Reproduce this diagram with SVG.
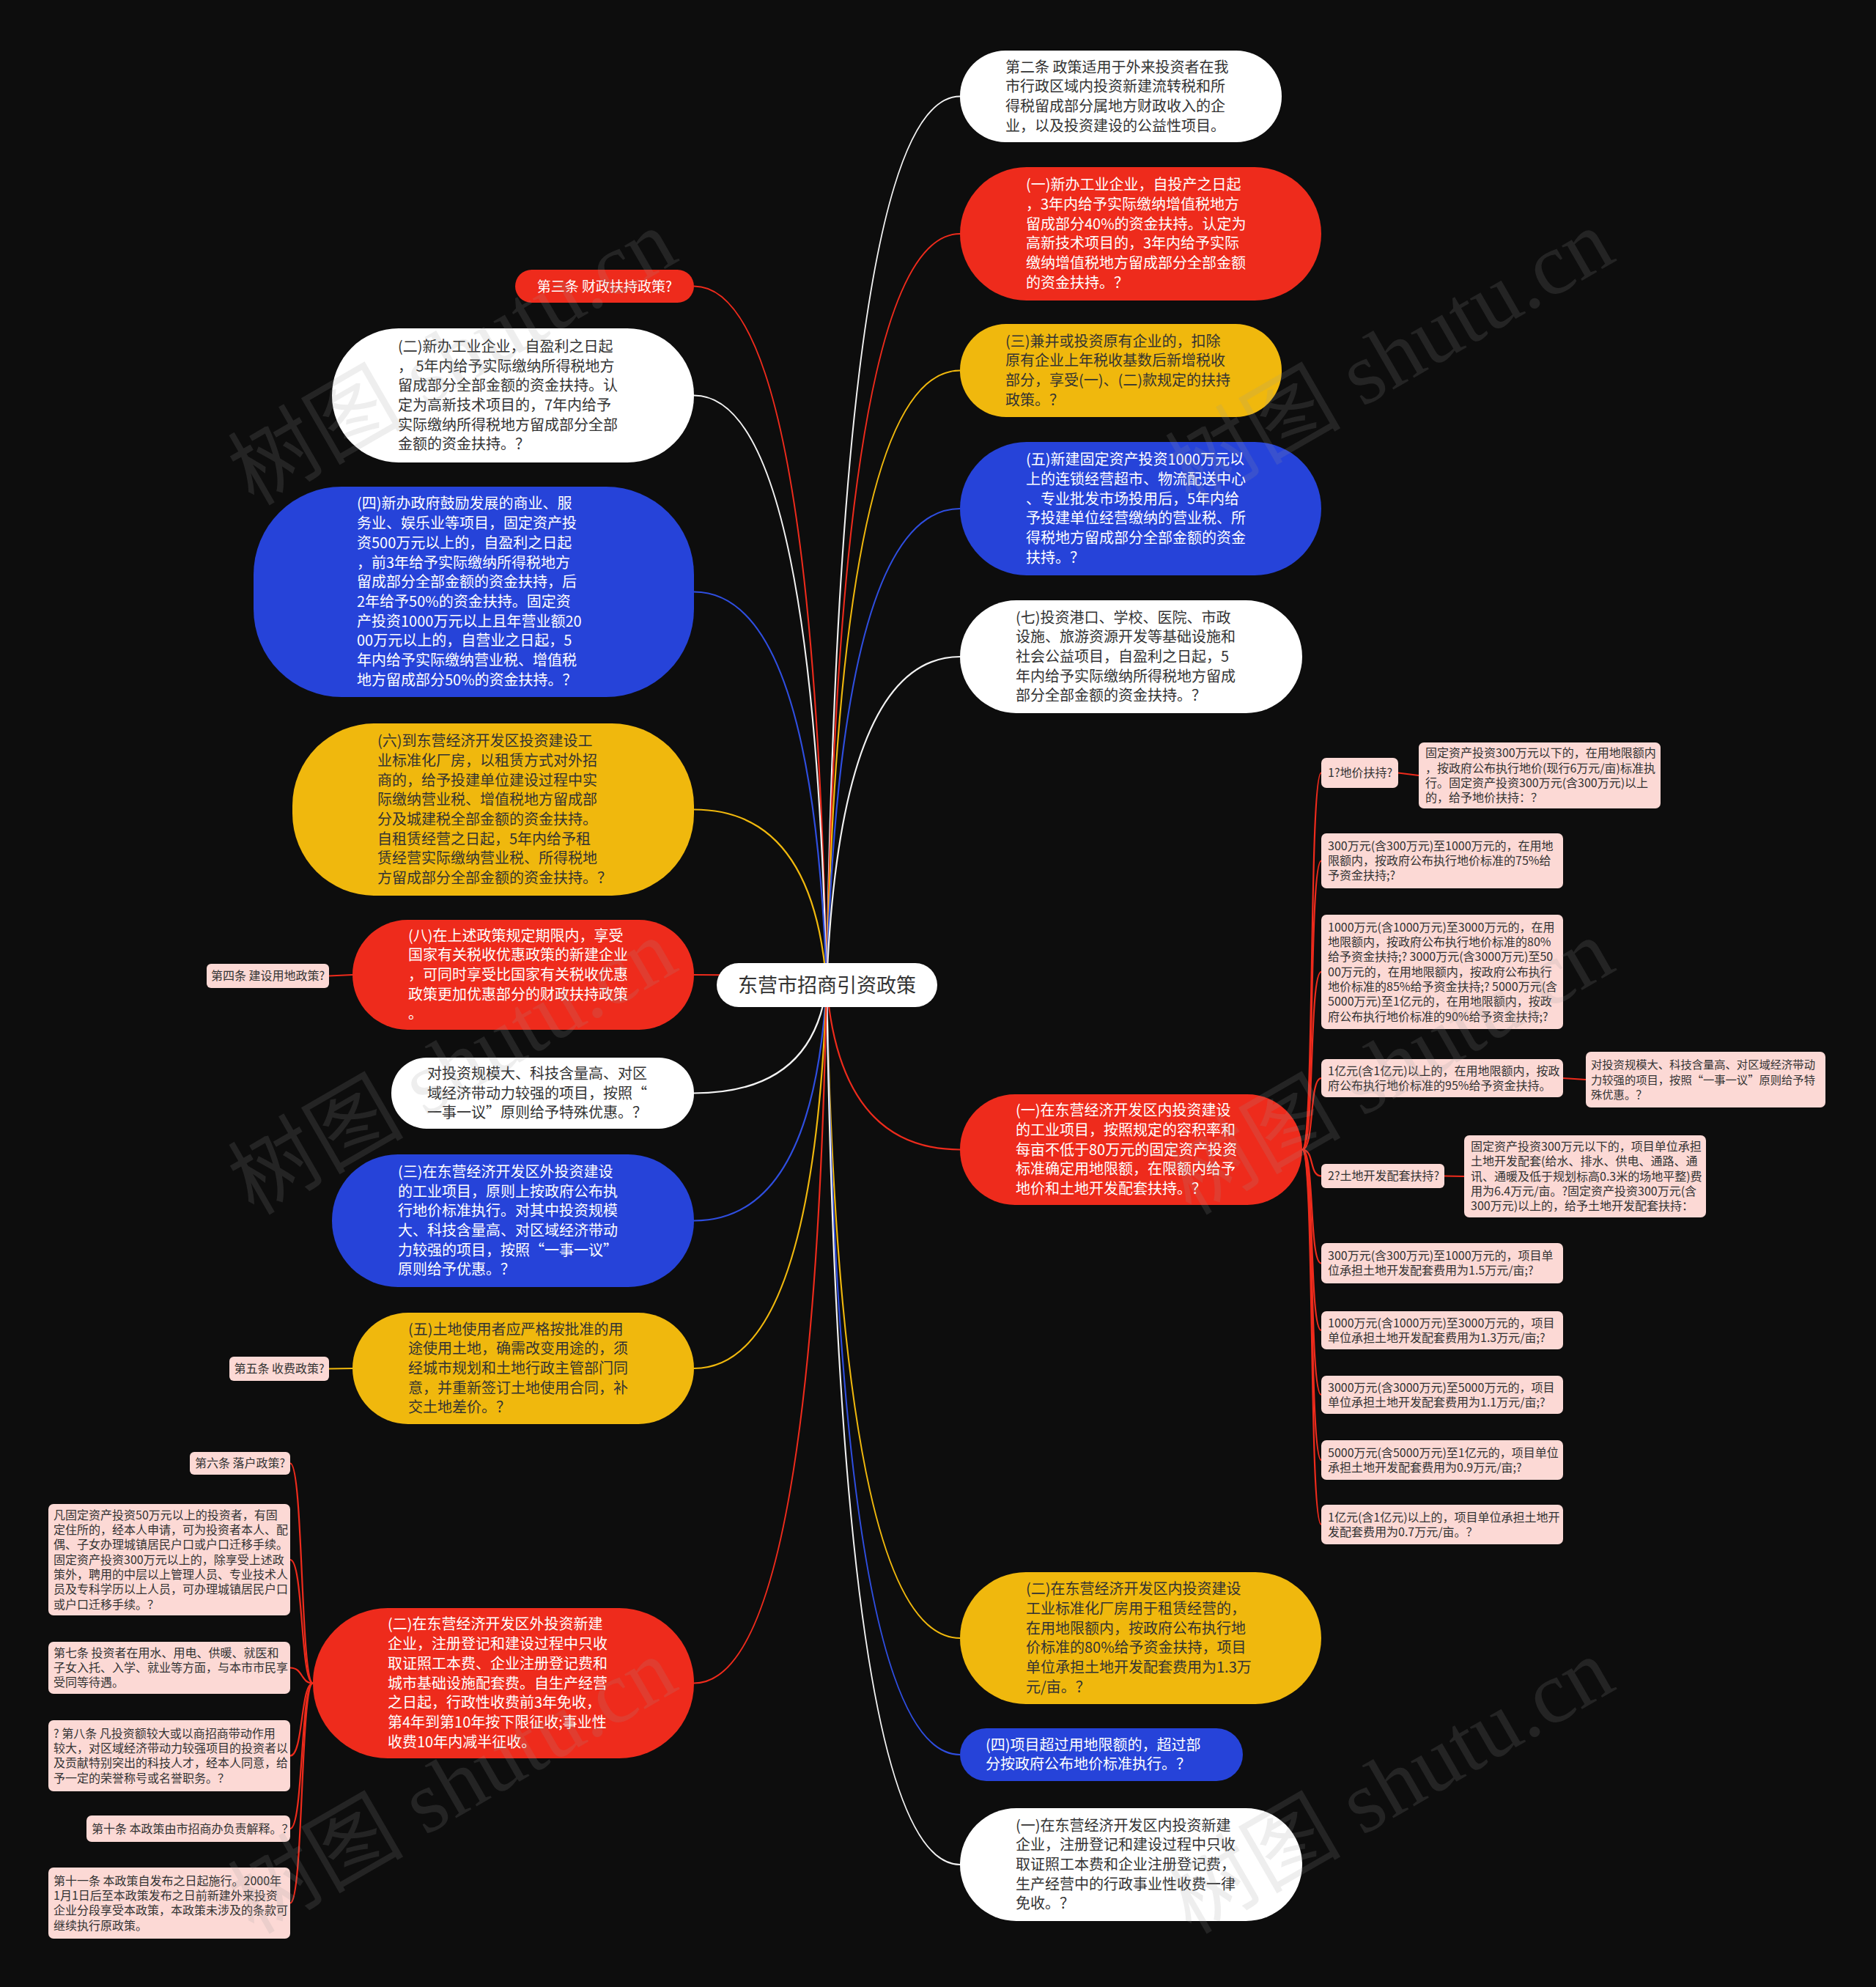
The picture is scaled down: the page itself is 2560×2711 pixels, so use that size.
<svg xmlns="http://www.w3.org/2000/svg" width="2560" height="2711" viewBox="0 0 2560 2711">
<style>
.t{font-family:"Noto Sans CJK SC","Noto Sans",sans-serif;font-size:20px}
.s{font-family:"Noto Sans CJK SC","Noto Sans",sans-serif;font-size:16px;fill:#333}
.dk{fill:#333}
.wt{fill:#fff}
.red{fill:#EE2B1C}
.blue{fill:#2643D9}
.yel{fill:#F0B80D}
.wh{fill:#fff}
.pk{fill:#FCD9D5}
.c{fill:none;stroke-width:2.2}
.cr{stroke:#EE2B1C}
.cb{stroke:#2F4EE0}
.cy{stroke:#F0B80D}
.cw{stroke:#f2f2f2}
.wm{font-family:"Liberation Serif","Noto Sans CJK SC",serif;font-size:120px;fill:#9a9a9a;opacity:0.16}
</style>
<rect x="0" y="0" width="2560" height="2711" fill="#0d0d0d"/>
<g id="connectors">
<path class="c cw" d="M1128,1344 Q1146,131.5 1310,131.5"/>
<path class="c cr" d="M1128,1344 Q1146,319 1310,319"/>
<path class="c cy" d="M1128,1344 Q1146,505.5 1310,505.5"/>
<path class="c cb" d="M1128,1344 Q1146,694 1310,694"/>
<path class="c cw" d="M1128,1344 Q1146,896 1310,896"/>
<path class="c cr" d="M1128,1344 Q1146,1568.5 1310,1568.5"/>
<path class="c cy" d="M1128,1344 Q1146,2235 1310,2235"/>
<path class="c cb" d="M1128,1344 Q1146,2394 1310,2394"/>
<path class="c cw" d="M1128,1344 Q1146,2544 1310,2544"/>
<path class="c cr" d="M1128,1344 Q1110,390.5 947,390.5"/>
<path class="c cw" d="M1128,1344 Q1110,539.5 947,539.5"/>
<path class="c cb" d="M1128,1344 Q1110,807.5 947,807.5"/>
<path class="c cy" d="M1128,1344 Q1110,1104.5 947,1104.5"/>
<path class="c cr" d="M1128,1344 Q1110,1330 947,1330"/>
<path class="c cw" d="M1128,1344 Q1110,1491.5 947,1491.5"/>
<path class="c cb" d="M1128,1344 Q1110,1665.5 947,1665.5"/>
<path class="c cy" d="M1128,1344 Q1110,1867 947,1867"/>
<path class="c cr" d="M1128,1344 Q1110,2296.5 947,2296.5"/>
<path class="c cr" d="M481,1330 L449,1331.5"/>
<path class="c cy" d="M481,1867 L449,1867.5"/>
<path class="c cr" d="M427,2296.5 C410,2296.5 414,1996.5 396,1996.5"/>
<path class="c cr" d="M427,2296.5 C410,2296.5 414,2128 396,2128"/>
<path class="c cr" d="M427,2296.5 C410,2296.5 414,2275.5 396,2275.5"/>
<path class="c cr" d="M427,2296.5 C410,2296.5 414,2395.5 396,2395.5"/>
<path class="c cr" d="M427,2296.5 C410,2296.5 414,2495 396,2495"/>
<path class="c cr" d="M427,2296.5 C410,2296.5 414,2596.5 396,2596.5"/>
<path class="c cr" d="M1777,1568.5 C1794,1568.5 1786,1054.5 1803,1054.5"/>
<path class="c cr" d="M1777,1568.5 C1794,1568.5 1786,1174.5 1803,1174.5"/>
<path class="c cr" d="M1777,1568.5 C1794,1568.5 1786,1326 1803,1326"/>
<path class="c cr" d="M1777,1568.5 C1794,1568.5 1786,1471 1803,1471"/>
<path class="c cr" d="M1777,1568.5 C1794,1568.5 1786,1604.5 1803,1604.5"/>
<path class="c cr" d="M1777,1568.5 C1794,1568.5 1786,1723.5 1803,1723.5"/>
<path class="c cr" d="M1777,1568.5 C1794,1568.5 1786,1815 1803,1815"/>
<path class="c cr" d="M1777,1568.5 C1794,1568.5 1786,1903 1803,1903"/>
<path class="c cr" d="M1777,1568.5 C1794,1568.5 1786,1992 1803,1992"/>
<path class="c cr" d="M1777,1568.5 C1794,1568.5 1786,2080 1803,2080"/>
<path class="c cr" d="M1908,1054.5 L1936,1058"/>
<path class="c cr" d="M2133,1471 L2164,1473"/>
<path class="c cr" d="M1971,1604.5 L1998,1605"/>
</g>
<g id="center">
<rect x="978" y="1314" width="301" height="60" rx="30" fill="#fff"/>
<text x="1128.5" y="1353.5" text-anchor="middle" style="font-family:'Noto Sans CJK SC',sans-serif;font-size:27px;fill:#333">东营市招商引资政策</text>
</g>
<g id="r1">
<rect class="wh" x="1310" y="69" width="439" height="125" rx="62"/>
<text class="t dk" x="1372" y="98.5"><tspan x="1372">第二条 政策适用于外来投资者在我</tspan><tspan x="1372" dy="26.7">市行政区域内投资新建流转税和所</tspan><tspan x="1372" dy="26.7">得税留成部分属地方财政收入的企</tspan><tspan x="1372" dy="26.7">业，以及投资建设的公益性项目。</tspan></text>
</g>
<g id="r2">
<rect class="red" x="1310" y="228" width="493" height="182" rx="91"/>
<text class="t wt" x="1400" y="259.3"><tspan x="1400">(一)新办工业企业，自投产之日起</tspan><tspan x="1400" dy="26.7">，3年内给予实际缴纳增值税地方</tspan><tspan x="1400" dy="26.7">留成部分40%的资金扶持。认定为</tspan><tspan x="1400" dy="26.7">高新技术项目的，3年内给予实际</tspan><tspan x="1400" dy="26.7">缴纳增值税地方留成部分全部金额</tspan><tspan x="1400" dy="26.7">的资金扶持。？</tspan></text>
</g>
<g id="r3">
<rect class="yel" x="1310" y="442" width="439" height="127" rx="63"/>
<text class="t dk" x="1372" y="472.5"><tspan x="1372">(三)兼并或投资原有企业的，扣除</tspan><tspan x="1372" dy="26.7">原有企业上年税收基数后新增税收</tspan><tspan x="1372" dy="26.7">部分，享受(一)、(二)款规定的扶持</tspan><tspan x="1372" dy="26.7">政策。？</tspan></text>
</g>
<g id="r4">
<rect class="blue" x="1310" y="603" width="493" height="182" rx="91"/>
<text class="t wt" x="1400" y="634.3"><tspan x="1400">(五)新建固定资产投资1000万元以</tspan><tspan x="1400" dy="26.7">上的连锁经营超市、物流配送中心</tspan><tspan x="1400" dy="26.7">、专业批发市场投用后，5年内给</tspan><tspan x="1400" dy="26.7">予投建单位经营缴纳的营业税、所</tspan><tspan x="1400" dy="26.7">得税地方留成部分全部金额的资金</tspan><tspan x="1400" dy="26.7">扶持。？</tspan></text>
</g>
<g id="r5">
<rect class="wh" x="1310" y="819" width="467" height="154" rx="77"/>
<text class="t dk" x="1386" y="849.6"><tspan x="1386">(七)投资港口、学校、医院、市政</tspan><tspan x="1386" dy="26.7">设施、旅游资源开发等基础设施和</tspan><tspan x="1386" dy="26.7">社会公益项目，自盈利之日起，5</tspan><tspan x="1386" dy="26.7">年内给予实际缴纳所得税地方留成</tspan><tspan x="1386" dy="26.7">部分全部金额的资金扶持。？</tspan></text>
</g>
<g id="r6">
<rect class="red" x="1310" y="1493" width="467" height="151" rx="75"/>
<text class="t wt" x="1386" y="1522.1"><tspan x="1386">(一)在东营经济开发区内投资建设</tspan><tspan x="1386" dy="26.7">的工业项目，按照规定的容积率和</tspan><tspan x="1386" dy="26.7">每亩不低于80万元的固定资产投资</tspan><tspan x="1386" dy="26.7">标准确定用地限额，在限额内给予</tspan><tspan x="1386" dy="26.7">地价和土地开发配套扶持。？</tspan></text>
</g>
<g id="r7">
<rect class="yel" x="1310" y="2145" width="493" height="180" rx="90"/>
<text class="t dk" x="1400" y="2175.3"><tspan x="1400">(二)在东营经济开发区内投资建设</tspan><tspan x="1400" dy="26.7">工业标准化厂房用于租赁经营的，</tspan><tspan x="1400" dy="26.7">在用地限额内，按政府公布执行地</tspan><tspan x="1400" dy="26.7">价标准的80%给予资金扶持，项目</tspan><tspan x="1400" dy="26.7">单位承担土地开发配套费用为1.3万</tspan><tspan x="1400" dy="26.7">元/亩。？</tspan></text>
</g>
<g id="r8">
<rect class="blue" x="1310" y="2358" width="386" height="72" rx="36"/>
<text class="t wt" x="1345" y="2387.7"><tspan x="1345">(四)项目超过用地限额的，超过部</tspan><tspan x="1345" dy="26.7">分按政府公布地价标准执行。？</tspan></text>
</g>
<g id="r9">
<rect class="wh" x="1310" y="2467" width="467" height="154" rx="77"/>
<text class="t dk" x="1386" y="2497.6"><tspan x="1386">(一)在东营经济开发区内投资新建</tspan><tspan x="1386" dy="26.7">企业，注册登记和建设过程中只收</tspan><tspan x="1386" dy="26.7">取证照工本费和企业注册登记费，</tspan><tspan x="1386" dy="26.7">生产经营中的行政事业性收费一律</tspan><tspan x="1386" dy="26.7">免收。？</tspan></text>
</g>
<g id="l1">
<rect class="red" x="703" y="368" width="244" height="45" rx="22.5"/>
<text class="t wt" x="825" y="397.5" text-anchor="middle" style="font-size:19px">第三条 财政扶持政策?</text>
</g>
<g id="l2">
<rect class="wh" x="453" y="448" width="494" height="183" rx="91"/>
<text class="t dk" x="543" y="479.8"><tspan x="543">(二)新办工业企业，自盈利之日起</tspan><tspan x="543" dy="26.7">， 5年内给予实际缴纳所得税地方</tspan><tspan x="543" dy="26.7">留成部分全部金额的资金扶持。认</tspan><tspan x="543" dy="26.7">定为高新技术项目的，7年内给予</tspan><tspan x="543" dy="26.7">实际缴纳所得税地方留成部分全部</tspan><tspan x="543" dy="26.7">金额的资金扶持。？</tspan></text>
</g>
<g id="l3">
<rect class="blue" x="346" y="664" width="601" height="287" rx="120"/>
<text class="t wt" x="487" y="694.4"><tspan x="487">(四)新办政府鼓励发展的商业、服</tspan><tspan x="487" dy="26.7">务业、娱乐业等项目，固定资产投</tspan><tspan x="487" dy="26.7">资500万元以上的，自盈利之日起</tspan><tspan x="487" dy="26.7">，前3年给予实际缴纳所得税地方</tspan><tspan x="487" dy="26.7">留成部分全部金额的资金扶持，后</tspan><tspan x="487" dy="26.7">2年给予50%的资金扶持。固定资</tspan><tspan x="487" dy="26.7">产投资1000万元以上且年营业额20</tspan><tspan x="487" dy="26.7">00万元以上的，自营业之日起，5</tspan><tspan x="487" dy="26.7">年内给予实际缴纳营业税、增值税</tspan><tspan x="487" dy="26.7">地方留成部分50%的资金扶持。？</tspan></text>
</g>
<g id="l4">
<rect class="yel" x="399" y="987" width="548" height="235" rx="112"/>
<text class="t dk" x="515" y="1018.1"><tspan x="515">(六)到东营经济开发区投资建设工</tspan><tspan x="515" dy="26.7">业标准化厂房，以租赁方式对外招</tspan><tspan x="515" dy="26.7">商的，给予投建单位建设过程中实</tspan><tspan x="515" dy="26.7">际缴纳营业税、增值税地方留成部</tspan><tspan x="515" dy="26.7">分及城建税全部金额的资金扶持。</tspan><tspan x="515" dy="26.7">自租赁经营之日起，5年内给予租</tspan><tspan x="515" dy="26.7">赁经营实际缴纳营业税、所得税地</tspan><tspan x="515" dy="26.7">方留成部分全部金额的资金扶持。？</tspan></text>
</g>
<g id="l5">
<rect class="red" x="481" y="1255" width="466" height="150" rx="75"/>
<text class="t wt" x="557" y="1283.6"><tspan x="557">(八)在上述政策规定期限内，享受</tspan><tspan x="557" dy="26.7">国家有关税收优惠政策的新建企业</tspan><tspan x="557" dy="26.7">，可同时享受比国家有关税收优惠</tspan><tspan x="557" dy="26.7">政策更加优惠部分的财政扶持政策</tspan><tspan x="557" dy="26.7">。</tspan></text>
</g>
<g id="l5a">
<rect class="pk" x="282" y="1315" width="167" height="33" rx="6"/>
<text class="s" x="365.5" y="1337.1" text-anchor="middle">第四条 建设用地政策?</text>
</g>
<g id="l6">
<rect class="wh" x="534" y="1443" width="413" height="97" rx="48"/>
<text class="t dk" x="583" y="1471.8"><tspan x="583">对投资规模大、科技含量高、对区</tspan><tspan x="583" dy="26.7">域经济带动力较强的项目，按照“</tspan><tspan x="583" dy="26.7">一事一议”原则给予特殊优惠。？</tspan></text>
</g>
<g id="l7">
<rect class="blue" x="453" y="1575" width="494" height="181" rx="90"/>
<text class="t wt" x="543" y="1605.8"><tspan x="543">(三)在东营经济开发区外投资建设</tspan><tspan x="543" dy="26.7">的工业项目，原则上按政府公布执</tspan><tspan x="543" dy="26.7">行地价标准执行。对其中投资规模</tspan><tspan x="543" dy="26.7">大、科技含量高、对区域经济带动</tspan><tspan x="543" dy="26.7">力较强的项目，按照“一事一议”</tspan><tspan x="543" dy="26.7">原则给予优惠。？</tspan></text>
</g>
<g id="l8">
<rect class="yel" x="481" y="1791" width="466" height="152" rx="76"/>
<text class="t dk" x="557" y="1820.6"><tspan x="557">(五)土地使用者应严格按批准的用</tspan><tspan x="557" dy="26.7">途使用土地，确需改变用途的，须</tspan><tspan x="557" dy="26.7">经城市规划和土地行政主管部门同</tspan><tspan x="557" dy="26.7">意，并重新签订土地使用合同，补</tspan><tspan x="557" dy="26.7">交土地差价。？</tspan></text>
</g>
<g id="l8a">
<rect class="pk" x="313" y="1851" width="136" height="33" rx="6"/>
<text class="s" x="381" y="1873.1" text-anchor="middle">第五条 收费政策?</text>
</g>
<g id="l9">
<rect class="red" x="427" y="2194" width="520" height="205" rx="102"/>
<text class="t wt" x="529" y="2223.4"><tspan x="529">(二)在东营经济开发区外投资新建</tspan><tspan x="529" dy="26.7">企业，注册登记和建设过程中只收</tspan><tspan x="529" dy="26.7">取证照工本费、企业注册登记费和</tspan><tspan x="529" dy="26.7">城市基础设施配套费。自生产经营</tspan><tspan x="529" dy="26.7">之日起，行政性收费前3年免收，</tspan><tspan x="529" dy="26.7">第4年到第10年按下限征收;事业性</tspan><tspan x="529" dy="26.7">收费10年内减半征收。</tspan></text>
</g>
<g id="p1">
<rect class="pk" x="259" y="1981" width="137" height="31" rx="6"/>
<text class="s" x="327.5" y="2002.1" text-anchor="middle">第六条 落户政策?</text>
</g>
<g id="p2">
<rect class="pk" x="66" y="2052" width="330" height="152" rx="7"/>
<text class="s" x="73" y="2072.7"><tspan x="73">凡固定资产投资50万元以上的投资者，有固</tspan><tspan x="73" dy="20.3">定住所的，经本人申请，可为投资者本人、配</tspan><tspan x="73" dy="20.3">偶、子女办理城镇居民户口或户口迁移手续。</tspan><tspan x="73" dy="20.3">固定资产投资300万元以上的，除享受上述政</tspan><tspan x="73" dy="20.3">策外，聘用的中层以上管理人员、专业技术人</tspan><tspan x="73" dy="20.3">员及专科学历以上人员，可办理城镇居民户口</tspan><tspan x="73" dy="20.3">或户口迁移手续。？</tspan></text>
</g>
<g id="p3">
<rect class="pk" x="66" y="2240" width="330" height="71" rx="7"/>
<text class="s" x="73" y="2260.8"><tspan x="73">第七条 投资者在用水、用电、供暖、就医和</tspan><tspan x="73" dy="20.3">子女入托、入学、就业等方面，与本市市民享</tspan><tspan x="73" dy="20.3">受同等待遇。</tspan></text>
</g>
<g id="p4">
<rect class="pk" x="66" y="2347" width="330" height="97" rx="7"/>
<text class="s" x="73" y="2370.7"><tspan x="73">? 第八条 凡投资额较大或以商招商带动作用</tspan><tspan x="73" dy="20.3">较大，对区域经济带动力较强项目的投资者以</tspan><tspan x="73" dy="20.3">及贡献特别突出的科技人才，经本人同意，给</tspan><tspan x="73" dy="20.3">予一定的荣誉称号或名誉职务。？</tspan></text>
</g>
<g id="p5">
<rect class="pk" x="118" y="2477" width="278" height="36" rx="7"/>
<text class="s" x="125" y="2500.6">第十条 本政策由市招商办负责解释。？</text>
</g>
<g id="p6">
<rect class="pk" x="66" y="2548" width="330" height="97" rx="7"/>
<text class="s" x="73" y="2571.7"><tspan x="73">第十一条 本政策自发布之日起施行。2000年</tspan><tspan x="73" dy="20.3">1月1日后至本政策发布之日前新建外来投资</tspan><tspan x="73" dy="20.3">企业分段享受本政策，本政策未涉及的条款可</tspan><tspan x="73" dy="20.3">继续执行原政策。</tspan></text>
</g>
<g id="q1">
<rect class="pk" x="1803" y="1034" width="105" height="41" rx="7"/>
<text class="s" x="1812" y="1060.1">1?地价扶持?</text>
</g>
<g id="q1c">
<rect class="pk" x="1936" y="1013" width="330" height="90" rx="7"/>
<text class="s" x="1945" y="1033.2"><tspan x="1945">固定资产投资300万元以下的，在用地限额内</tspan><tspan x="1945" dy="20.3">，按政府公布执行地价(现行6万元/亩)标准执</tspan><tspan x="1945" dy="20.3">行。固定资产投资300万元(含300万元)以上</tspan><tspan x="1945" dy="20.3">的，给予地价扶持：？</tspan></text>
</g>
<g id="q2">
<rect class="pk" x="1803" y="1137" width="330" height="75" rx="7"/>
<text class="s" x="1812" y="1159.8"><tspan x="1812">300万元(含300万元)至1000万元的，在用地</tspan><tspan x="1812" dy="20.3">限额内，按政府公布执行地价标准的75%给</tspan><tspan x="1812" dy="20.3">予资金扶持;?</tspan></text>
</g>
<g id="q3">
<rect class="pk" x="1803" y="1248" width="330" height="156" rx="7"/>
<text class="s" x="1812" y="1270.7"><tspan x="1812">1000万元(含1000万元)至3000万元的，在用</tspan><tspan x="1812" dy="20.3">地限额内，按政府公布执行地价标准的80%</tspan><tspan x="1812" dy="20.3">给予资金扶持;? 3000万元(含3000万元)至50</tspan><tspan x="1812" dy="20.3">00万元的，在用地限额内，按政府公布执行</tspan><tspan x="1812" dy="20.3">地价标准的85%给予资金扶持;? 5000万元(含</tspan><tspan x="1812" dy="20.3">5000万元)至1亿元的，在用地限额内，按政</tspan><tspan x="1812" dy="20.3">府公布执行地价标准的90%给予资金扶持;?</tspan></text>
</g>
<g id="q4">
<rect class="pk" x="1803" y="1445" width="330" height="52" rx="7"/>
<text class="s" x="1812" y="1466.5"><tspan x="1812">1亿元(含1亿元)以上的，在用地限额内，按政</tspan><tspan x="1812" dy="20.3">府公布执行地价标准的95%给予资金扶持。</tspan></text>
</g>
<g id="q4c">
<rect class="pk" x="2164" y="1435" width="327" height="76" rx="7"/>
<text class="s" x="2171" y="1458.3" style="font-size:15.3px"><tspan x="2171">对投资规模大、科技含量高、对区域经济带动</tspan><tspan x="2171" dy="20.3">力较强的项目，按照“一事一议”原则给予特</tspan><tspan x="2171" dy="20.3">殊优惠。？</tspan></text>
</g>
<g id="q5">
<rect class="pk" x="1803" y="1588" width="168" height="33" rx="6"/>
<text class="s" x="1812" y="1610.1">2?土地开发配套扶持?</text>
</g>
<g id="q5c">
<rect class="pk" x="1998" y="1549" width="330" height="112" rx="7"/>
<text class="s" x="2007" y="1570"><tspan x="2007">固定资产投资300万元以下的，项目单位承担</tspan><tspan x="2007" dy="20.3">土地开发配套(给水、排水、供电、通路、通</tspan><tspan x="2007" dy="20.3">讯、通暖及低于规划标高0.3米的场地平整)费</tspan><tspan x="2007" dy="20.3">用为6.4万元/亩。?固定资产投资300万元(含</tspan><tspan x="2007" dy="20.3">300万元)以上的，给予土地开发配套扶持：</tspan></text>
</g>
<g id="q6">
<rect class="pk" x="1803" y="1696" width="330" height="55" rx="7"/>
<text class="s" x="1812" y="1719"><tspan x="1812">300万元(含300万元)至1000万元的，项目单</tspan><tspan x="1812" dy="20.3">位承担土地开发配套费用为1.5万元/亩;?</tspan></text>
</g>
<g id="q7">
<rect class="pk" x="1803" y="1789" width="330" height="52" rx="7"/>
<text class="s" x="1812" y="1810.5"><tspan x="1812">1000万元(含1000万元)至3000万元的，项目</tspan><tspan x="1812" dy="20.3">单位承担土地开发配套费用为1.3万元/亩;?</tspan></text>
</g>
<g id="q8">
<rect class="pk" x="1803" y="1877" width="330" height="52" rx="7"/>
<text class="s" x="1812" y="1898.5"><tspan x="1812">3000万元(含3000万元)至5000万元的，项目</tspan><tspan x="1812" dy="20.3">单位承担土地开发配套费用为1.1万元/亩;?</tspan></text>
</g>
<g id="q9">
<rect class="pk" x="1803" y="1965" width="330" height="54" rx="7"/>
<text class="s" x="1812" y="1987.5"><tspan x="1812">5000万元(含5000万元)至1亿元的，项目单位</tspan><tspan x="1812" dy="20.3">承担土地开发配套费用为0.9万元/亩;?</tspan></text>
</g>
<g id="q10">
<rect class="pk" x="1803" y="2053" width="330" height="54" rx="7"/>
<text class="s" x="1812" y="2075.5"><tspan x="1812">1亿元(含1亿元)以上的，项目单位承担土地开</tspan><tspan x="1812" dy="20.3">发配套费用为0.7万元/亩。？</tspan></text>
</g>
<g id="watermark">
<text class="wm" x="346" y="691" transform="rotate(-30 346 691)">树图 shutu.cn</text>
<text class="wm" x="1625" y="691" transform="rotate(-30 1625 691)">树图 shutu.cn</text>
<text class="wm" x="346" y="1659" transform="rotate(-30 346 1659)">树图 shutu.cn</text>
<text class="wm" x="1625" y="1659" transform="rotate(-30 1625 1659)">树图 shutu.cn</text>
<text class="wm" x="346" y="2640" transform="rotate(-30 346 2640)">树图 shutu.cn</text>
<text class="wm" x="1625" y="2640" transform="rotate(-30 1625 2640)">树图 shutu.cn</text>
</g>
</svg>
